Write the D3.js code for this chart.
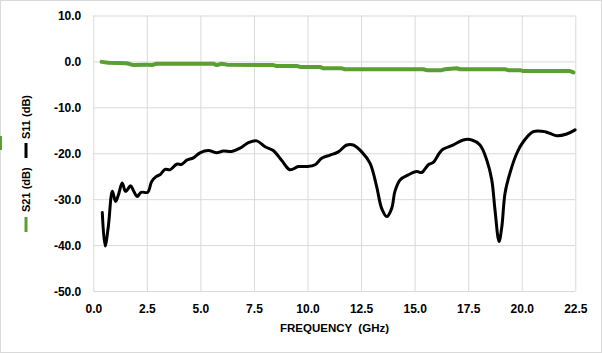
<!DOCTYPE html>
<html>
<head>
<meta charset="utf-8">
<script src="https://cdn.jsdelivr.net/npm/d3@7"></script>
<style>
  body { margin: 0; background: #fff; }
  text { font-family: "Liberation Sans", Arial, sans-serif; font-weight: bold; fill: #000; }
</style>
</head>
<body>
<svg id="chart" width="602" height="353"></svg>
<script>
// S11 reflection (black), [GHz, dB]
const s11 = [
  [0.42,-32.9],[0.55,-40.2],[0.70,-36.0],[0.89,-28.3],[1.04,-30.5],[1.17,-29.1],
  [1.35,-26.5],[1.51,-28.3],[1.74,-27.1],[1.87,-28.1],[2.05,-29.4],[2.23,-28.5],
  [2.54,-28.5],[2.72,-26.2],[2.93,-25.1],[3.11,-24.7],[3.35,-23.5],[3.58,-23.6],
  [3.89,-22.4],[4.13,-22.4],[4.36,-21.5],[4.67,-21.0],[4.98,-19.9],[5.37,-19.4],
  [5.76,-19.9],[6.07,-19.5],[6.46,-19.6],[6.85,-18.9],[7.24,-17.7],[7.63,-17.3],
  [8.02,-18.6],[8.40,-19.4],[8.80,-21.6],[9.18,-23.6],[9.57,-22.9],[9.96,-22.9],
  [10.35,-22.5],[10.66,-21.1],[11.05,-20.4],[11.44,-19.7],[11.83,-18.2],[12.14,-18.2],
  [12.53,-19.7],[12.92,-22.2],[13.23,-27.3],[13.46,-32.0],[13.70,-33.8],[13.93,-32.0],
  [14.08,-28.3],[14.32,-25.8],[14.71,-24.7],[15.10,-24.0],[15.33,-24.2],[15.64,-22.5],
  [15.87,-22.0],[16.15,-20.0],[16.34,-19.1],[16.81,-18.2],[17.27,-17.1],[17.67,-17.1],
  [18.05,-18.2],[18.37,-21.5],[18.60,-25.8],[18.75,-32.3],[18.94,-39.2],[19.07,-36.0],
  [19.22,-28.7],[19.45,-24.3],[19.77,-20.0],[20.07,-17.5],[20.54,-15.3],[21.09,-15.3],
  [21.63,-16.2],[22.10,-15.8],[22.49,-14.9]
];

// S21 transmission (green), [GHz, dB]
const s21 = [
  [0.39,-0.1],[0.70,-0.3],[1.56,-0.4],[1.87,-0.8],[2.49,-0.7],[2.72,-0.8],
  [2.96,-0.5],[5.60,-0.5],[5.76,-0.8],[5.99,-0.5],[6.23,-0.7],[8.40,-0.8],
  [8.56,-1.0],[9.50,-1.0],[9.65,-1.2],[10.58,-1.2],[10.74,-1.5],[11.60,-1.5],
  [11.75,-1.7],[15.41,-1.7],[15.56,-1.9],[16.26,-1.9],[16.42,-1.7],[16.96,-1.5],
  [17.12,-1.7],[19.22,-1.7],[19.37,-1.9],[19.92,-1.9],[20.07,-2.1],[22.25,-2.1],
  [22.41,-2.4]
];

const xTicks = [0, 2.5, 5, 7.5, 10, 12.5, 15, 17.5, 20, 22.5];
const yTicks = [10, 0, -10, -20, -30, -40, -50];
const xTitle = "FREQUENCY  (GHz)";
const seriesNames = ["S21 (dB)", "S11 (dB)"];

const W = 602, H = 353;
const margin = {top: 15.5, right: 26.7, bottom: 62, left: 93.3};
const innerW = W - margin.left - margin.right;
const innerH = H - margin.top - margin.bottom;

const svg = d3.select("#chart");

// outer frame
svg.append("rect")
  .attr("x", 0.5).attr("y", 0.5)
  .attr("width", W - 1).attr("height", H - 1)
  .attr("fill", "#fff").attr("stroke", "#d9d9d9");

// small green sliver on the left edge of the reference
svg.append("rect")
  .attr("x", 0).attr("y", 136).attr("width", 2).attr("height", 14)
  .attr("fill", "#5a9f33");

const g = svg.append("g").attr("transform", `translate(${margin.left},${margin.top})`);

const x = d3.scaleLinear().domain([0, 22.5]).range([0, innerW]);
const y = d3.scaleLinear().domain([-50, 10]).range([innerH, 0]);

const fmt = d => d.toFixed(1);

// gridlines + y labels
const yAxis = g.append("g")
  .call(d3.axisLeft(y).tickValues(yTicks).tickSize(-innerW).tickFormat(fmt).tickPadding(12));
yAxis.select(".domain").remove();
yAxis.selectAll("line").attr("stroke", "#d9d9d9");
yAxis.selectAll("text").attr("font-size", 12).attr("font-family", "Liberation Sans, Arial, sans-serif")
  .attr("font-weight", "bold").attr("fill", "#000").attr("dy", "0.36em");

const xAxis = g.append("g")
  .attr("transform", `translate(0,${innerH})`)
  .call(d3.axisBottom(x).tickValues(xTicks).tickSize(-innerH).tickFormat(fmt).tickPadding(13));
xAxis.select(".domain").remove();
xAxis.selectAll("line").attr("stroke", "#d9d9d9");
xAxis.selectAll("text").attr("font-size", 12).attr("font-family", "Liberation Sans, Arial, sans-serif")
  .attr("font-weight", "bold").attr("fill", "#000");

// x title
svg.append("text")
  .attr("x", 334.5).attr("y", 332)
  .attr("text-anchor", "middle")
  .attr("font-size", 11.5)
  .style("white-space", "pre")
  .text(xTitle);

// lines
const line = d3.line()
  .x(d => x(d[0]))
  .y(d => y(d[1]))
  .curve(d3.curveCatmullRom.alpha(0.5));

g.append("path")
  .datum(s21)
  .attr("d", d3.line().x(d => x(d[0])).y(d => y(d[1])))
  .attr("fill", "none")
  .attr("stroke", "#5a9f33")
  .attr("stroke-width", 4)
  .attr("stroke-linejoin", "round")
  .attr("stroke-linecap", "round");

g.append("path")
  .datum(s11)
  .attr("d", line)
  .attr("fill", "none")
  .attr("stroke", "#000")
  .attr("stroke-width", 3)
  .attr("stroke-linejoin", "round")
  .attr("stroke-linecap", "round");

// rotated y title with line markers (reads bottom to top)
const yt = svg.append("g").attr("transform", "translate(26,232) rotate(-90)");
yt.append("line").attr("x1", 0).attr("x2", 15).attr("y1", 0).attr("y2", 0)
  .attr("stroke", "#5a9f33").attr("stroke-width", 3);
yt.append("text").attr("x", 20).attr("y", 4).attr("font-size", 11).text(seriesNames[0]);
yt.append("line").attr("x1", 74).attr("x2", 89).attr("y1", 0).attr("y2", 0)
  .attr("stroke", "#000").attr("stroke-width", 3);
yt.append("text").attr("x", 93).attr("y", 4).attr("font-size", 11).text(seriesNames[1]);
</script>
</body>
</html>
